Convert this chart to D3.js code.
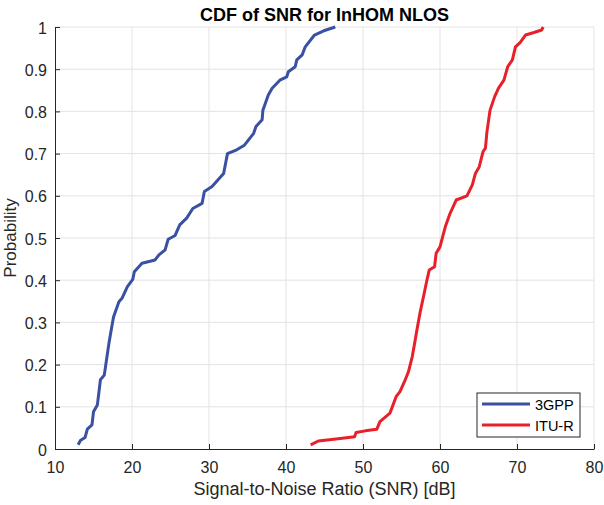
<!DOCTYPE html>
<html><head><meta charset="utf-8">
<script src="https://cdn.jsdelivr.net/npm/d3@7"></script>
<style>body{margin:0;background:#fff}svg{display:block}</style>
</head><body>
<script>
const seriesNames = ["3GPP", "ITU-R"];
const gppX = [13.0,13.3,13.9,14.2,14.8,15.0,15.5,15.9,16.4,17.0,17.3,17.6,18.3,18.7,19.4,20.1,20.3,21.3,23.0,23.5,24.3,24.7,25.6,26.2,27.1,27.9,29.1,29.4,30.4,31.9,32.4,33.6,34.6,35.8,36.1,36.9,37.0,37.7,38.2,39.2,40.1,40.3,41.2,41.4,42.1,42.5,43.7,44.9,46.4];
const gppY = [0.01,0.02,0.027,0.047,0.057,0.088,0.104,0.164,0.175,0.25,0.282,0.313,0.349,0.357,0.385,0.402,0.42,0.44,0.448,0.46,0.472,0.497,0.506,0.531,0.547,0.57,0.582,0.61,0.622,0.653,0.70,0.709,0.72,0.748,0.764,0.78,0.803,0.839,0.855,0.874,0.882,0.894,0.906,0.922,0.934,0.953,0.981,0.991,1.0];
const ituX = [43.2,44.2,47.05,48.9,49.1,50.3,51.8,52.2,53.5,54.3,54.8,55.4,55.9,56.4,56.7,57.0,57.4,57.9,58.3,58.6,59.3,59.5,60.0,60.4,60.7,61.3,62.1,63.5,64.2,64.6,65.1,65.6,65.9,66.1,66.5,67.1,67.6,68.3,68.8,69.4,69.8,70.4,71.1,72.2,73.2,73.4];
const ituY = [0.01,0.019,0.025,0.029,0.039,0.043,0.047,0.065,0.085,0.124,0.136,0.16,0.183,0.219,0.25,0.282,0.322,0.365,0.40,0.424,0.432,0.464,0.479,0.507,0.527,0.558,0.59,0.60,0.626,0.653,0.669,0.705,0.713,0.752,0.803,0.835,0.855,0.874,0.906,0.922,0.953,0.963,0.981,0.987,0.993,1.0];
const xTicks = [10,20,30,40,50,60,70,80];
const yTicks = [0,0.1,0.2,0.3,0.4,0.5,0.6,0.7,0.8,0.9,1];
const colors = ["#3a50a2", "#e8202a"];

const W = 604, H = 505;
const m = {l:55, r:10, t:27, b:56};
const FONT = "Liberation Sans, Arial, sans-serif";
const svg = d3.select("body").append("svg").attr("width", W).attr("height", H)
  .style("font-family", FONT);
const x = d3.scaleLinear().domain([10,80]).range([m.l, W - m.r]);
const y = d3.scaleLinear().domain([0,1]).range([H - m.b, m.t]);

// grid
svg.append("g").selectAll("line").data(xTicks.slice(1)).join("line")
  .attr("x1", d=>x(d)).attr("x2", d=>x(d)).attr("y1", y(0)).attr("y2", y(1))
  .attr("stroke", "#e3e3e3").attr("stroke-width", 1);
svg.append("g").selectAll("line").data(yTicks.slice(1)).join("line")
  .attr("x1", x(10)).attr("x2", x(80)).attr("y1", d=>y(d)).attr("y2", d=>y(d))
  .attr("stroke", "#e3e3e3").attr("stroke-width", 1);

// axes
const xAxis = svg.append("g").attr("transform", `translate(0,${y(0)})`)
  .call(d3.axisBottom(x).tickValues(xTicks).tickSizeInner(-5).tickSizeOuter(0).tickPadding(13));
const yAxis = svg.append("g").attr("transform", `translate(${x(10)},0)`)
  .call(d3.axisLeft(y).tickValues(yTicks).tickFormat(d=>d3.format("")(d)).tickSizeInner(-5).tickSizeOuter(0).tickPadding(8));
[xAxis, yAxis].forEach(a => {
  a.select(".domain").attr("stroke", "#262626").attr("stroke-width", 1);
  a.selectAll(".tick line").attr("stroke", "#262626");
  a.selectAll(".tick text").attr("fill", "#262626").style("font-size", "16px").style("font-family", FONT);
});
yAxis.selectAll(".tick text").attr("dy", "0.38em");

// lines
const line = d3.line().x(d=>x(d[0])).y(d=>y(d[1]));
const data = [d3.zip(gppX, gppY), d3.zip(ituX, ituY)];
data.forEach((d,i) => {
  svg.append("path").datum(d).attr("d", line).attr("fill","none")
    .attr("stroke", colors[i]).attr("stroke-width", 3).attr("stroke-linejoin","round");
});

// title and labels
svg.append("text").attr("x", (x(10)+x(80))/2).attr("y", 21).attr("text-anchor","middle")
  .style("font-size","18px").style("font-weight","bold").attr("fill","#000").text("CDF of SNR for InHOM NLOS");
svg.append("text").attr("x", (x(10)+x(80))/2).attr("y", 495).attr("text-anchor","middle")
  .style("font-size","18px").attr("fill","#262626").text("Signal-to-Noise Ratio (SNR) [dB]");
svg.append("text").attr("transform", `translate(15.5,${(y(0)+y(1))/2}) rotate(-90)`).attr("text-anchor","middle")
  .style("font-size","17px").attr("fill","#262626").text("Probability");

// legend
const lg = svg.append("g");
lg.append("rect").attr("x", 477).attr("y", 393).attr("width", 103).attr("height", 44)
  .attr("fill","#fff").attr("stroke","#262626").attr("stroke-width",1);
seriesNames.forEach((n,i) => {
  const yy = 404 + i*21;
  lg.append("line").attr("x1", 482).attr("x2", 530).attr("y1", yy).attr("y2", yy)
    .attr("stroke", colors[i]).attr("stroke-width", 3);
  lg.append("text").attr("x", 535).attr("y", yy + 5.5).style("font-size","14.5px").attr("fill","#000").text(n);
});
</script>
</body></html>
